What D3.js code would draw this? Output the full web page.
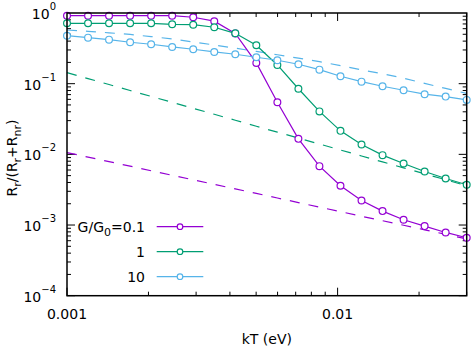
<!DOCTYPE html>
<html>
<head>
<meta charset="utf-8">
<script src="https://cdn.jsdelivr.net/npm/d3@7"></script>
<style>
  body { margin: 0; background: #fff; }
  text { font-family: "DejaVu Sans", sans-serif; fill: #000; }
</style>
</head>
<body>
<script>
// Chart size
var w = 472;
var h = 349;

// kT values (eV), shared by all curves
var kT = [0.001, 0.001196, 0.00143, 0.001711, 0.002046, 0.002447, 0.002927, 0.003501,
    0.004187, 0.005008, 0.00599, 0.007164, 0.008568, 0.010248, 0.012257, 0.014659,
    0.017533, 0.02097, 0.025081, 0.03];

// Solid curves with markers
var solid01 = [0.916, 0.916, 0.916, 0.916, 0.916, 0.916, 0.87, 0.766, 0.513, 0.1965,
    0.0547, 0.01656, 0.00681, 0.00359, 0.00222, 0.001575, 0.001187, 0.000966, 0.000785, 0.00066];
var solid1 = [0.715, 0.715, 0.715, 0.715, 0.715, 0.692, 0.683, 0.628, 0.516, 0.3496,
    0.184, 0.0848, 0.0405, 0.0215, 0.01376, 0.00974, 0.00741, 0.00571, 0.00455, 0.00371];
var solid10 = [0.4777, 0.4476, 0.4195, 0.3855, 0.3611, 0.3307, 0.3067, 0.2811, 0.2608, 0.2365,
    0.2145, 0.1883, 0.158, 0.1274, 0.1069, 0.092, 0.0808, 0.071, 0.0656, 0.0589];

// Dashed curves (no markers)
var dash01 = [0.0106, 0.00914, 0.00788, 0.0068, 0.00586, 0.00506, 0.00436, 0.00376, 0.00324, 0.0028,
    0.00241, 0.00208, 0.00179, 0.00155, 0.00133, 0.00115, 0.000992, 0.000856, 0.000738, 0.000636];
var dash1 = [0.1433, 0.118, 0.0972, 0.0801, 0.066, 0.0544, 0.0448, 0.0369, 0.0304, 0.025,
    0.0206, 0.017, 0.014, 0.01152, 0.00949, 0.00782, 0.00644, 0.00531, 0.00437, 0.0036];
var dash10 = [0.575, 0.551, 0.525, 0.497, 0.464, 0.429, 0.389, 0.353, 0.318, 0.2856,
    0.2566, 0.2297, 0.205, 0.18, 0.1564, 0.1382, 0.1194, 0.1008, 0.0857, 0.0728];

// Legend / tick labels
var legendLabels = ["0.1", "1", "10"];
var colors = ["#9400d3", "#009e73", "#56b4e9"];
var yTickExp = [0, -1, -2, -3, -4];
var xTickLabels = [0.001, 0.01];

var series = [
    {solid: solid01, dash: dash01},
    {solid: solid1, dash: dash1},
    {solid: solid10, dash: dash10}
];

// Plot area
var plotL = 67, plotR = 466.7, plotT = 13, plotB = 295.7;

var xScale = d3.scaleLog().domain([0.001, 0.03]).range([plotL, plotR]);
var yScale = d3.scaleLog().domain([1e-4, 1]).range([plotB, plotT]);

var svg = d3.select("body")
    .append("svg")
    .attr("width", w)
    .attr("height", h);

var line = d3.line()
    .x(function(d) { return xScale(d[0]); })
    .y(function(d) { return yScale(d[1]); });

// Ticks (inward, mirrored on all sides)
var ticks = svg.append("g").attr("stroke", "#000").attr("stroke-width", 1);
var xt = [];
[0.001, 0.01].forEach(function(p) {
    for (var k = 1; k <= 9; k++) {
        var v = p * k;
        if (v <= 0.0300001) xt.push({v: v, major: k === 1});
    }
});
xt.forEach(function(t) {
    var x = xScale(t.v), len = t.major ? 8 : 4;
    ticks.append("line").attr("x1", x).attr("x2", x).attr("y1", plotB).attr("y2", plotB - len);
    ticks.append("line").attr("x1", x).attr("x2", x).attr("y1", plotT).attr("y2", plotT + len);
});
var yt = [];
[1e-4, 1e-3, 1e-2, 1e-1].forEach(function(p) {
    for (var k = 1; k <= 9; k++) yt.push({v: p * k, major: k === 1});
});
yt.forEach(function(t) {
    var y = yScale(t.v), len = t.major ? 8 : 4;
    ticks.append("line").attr("x1", plotL).attr("x2", plotL + len).attr("y1", y).attr("y2", y);
    ticks.append("line").attr("x1", plotR).attr("x2", plotR - len).attr("y1", y).attr("y2", y);
});

// Dashed curves
series.forEach(function(s, i) {
    svg.append("path")
        .datum(kT.map(function(k, j) { return [k, s.dash[j]]; }))
        .attr("d", line)
        .attr("fill", "none")
        .attr("stroke", colors[i])
        .attr("stroke-width", 1.2)
        .attr("stroke-dasharray", "10,9");
});

// Solid curves with open circles
series.forEach(function(s, i) {
    var pts = kT.map(function(k, j) { return [k, s.solid[j]]; });
    svg.append("path")
        .datum(pts)
        .attr("d", line)
        .attr("fill", "none")
        .attr("stroke", colors[i])
        .attr("stroke-width", 1.2);
    svg.selectAll(".pt" + i)
        .data(pts)
        .enter()
        .append("circle")
        .attr("class", "pt" + i)
        .attr("cx", function(d) { return xScale(d[0]); })
        .attr("cy", function(d) { return yScale(d[1]); })
        .attr("r", 3.4)
        .attr("fill", "#fff")
        .attr("stroke", colors[i])
        .attr("stroke-width", 1.2);
});

// Frame
svg.append("rect")
    .attr("x", plotL).attr("y", plotT)
    .attr("width", plotR - plotL).attr("height", plotB - plotT)
    .attr("fill", "none")
    .attr("stroke", "#000")
    .attr("stroke-width", 1.5);

// Y tick labels 10^n
yTickExp.forEach(function(e) {
    var t = svg.append("text")
        .attr("x", 56)
        .attr("y", yScale(Math.pow(10, e)) + 6)
        .attr("text-anchor", "end")
        .attr("font-size", "14px");
    t.append("tspan").text("10");
    t.append("tspan").attr("dy", -9).attr("font-size", "10px")
        .text(e === 0 ? "0" : "\u2212" + (-e));
});

// X tick labels
svg.selectAll(".xlab")
    .data(xTickLabels)
    .enter()
    .append("text")
    .attr("class", "xlab")
    .attr("x", function(d) { return xScale(d); })
    .attr("y", 319)
    .attr("text-anchor", "middle")
    .attr("font-size", "14px")
    .text(function(d) { return d; });

// Axis titles
svg.append("text")
    .attr("x", (plotL + plotR) / 2)
    .attr("y", 344)
    .attr("text-anchor", "middle")
    .attr("font-size", "14px")
    .text("kT (eV)");

var yl = svg.append("text")
    .attr("transform", "translate(17," + 158 + ") rotate(-90)")
    .attr("text-anchor", "middle")
    .attr("font-size", "14px");
yl.append("tspan").text("R");
yl.append("tspan").attr("dy", 4).attr("font-size", "11px").text("r");
yl.append("tspan").attr("dy", -4).text("/(R");
yl.append("tspan").attr("dy", 4).attr("font-size", "11px").text("r");
yl.append("tspan").attr("dy", -4).text("+R");
yl.append("tspan").attr("dy", 4).attr("font-size", "11px").text("nr");
yl.append("tspan").attr("dy", -4).text(")");

// Legend
legendLabels.forEach(function(lab, i) {
    var y = 226.7 + i * 25;
    var t = svg.append("text")
        .attr("x", 145)
        .attr("y", y + 5)
        .attr("text-anchor", "end")
        .attr("font-size", "14px");
    if (i === 0) {
        t.append("tspan").text("G/G");
        t.append("tspan").attr("dy", 4).attr("font-size", "11px").text("0");
        t.append("tspan").attr("dy", -4).text("=" + lab);
    } else {
        t.text(lab);
    }
    svg.append("line")
        .attr("x1", 156.7).attr("x2", 203.3)
        .attr("y1", y).attr("y2", y)
        .attr("stroke", colors[i])
        .attr("stroke-width", 1.2);
    svg.append("circle")
        .attr("cx", 180).attr("cy", y).attr("r", 2.8)
        .attr("fill", "#fff")
        .attr("stroke", colors[i])
        .attr("stroke-width", 1.2);
});
</script>
</body>
</html>
